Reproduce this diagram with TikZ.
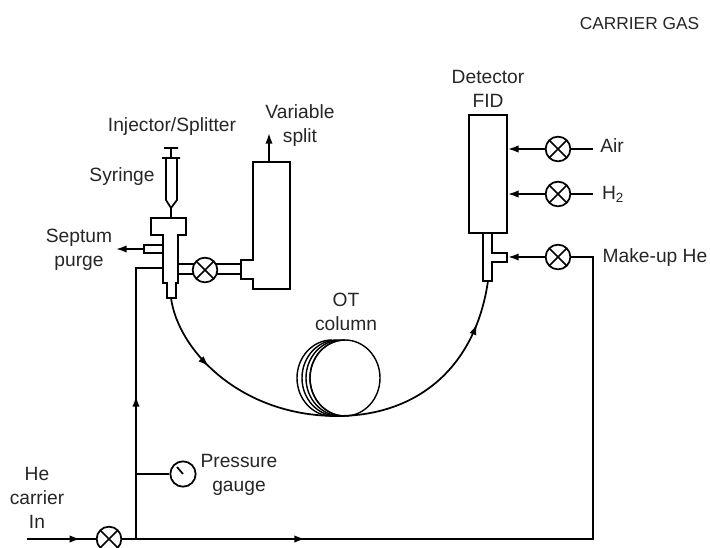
\documentclass[tikz,border=0pt]{standalone}
\usepackage{fontspec}
\setmainfont{Liberation Sans}
\usetikzlibrary{arrows.meta,decorations.markings}
\begin{document}
\begin{tikzpicture}[
x=0.75pt,y=-0.75pt,
pipe/.style={draw,line width=1.3pt},
coil/.style={draw,line width=1.05pt},
tip/.style={-{Latex[length=8pt,width=5.5pt]}},
midtip/.style={postaction={decorate},decoration={markings,mark=at position #1 with {\arrow{Latex[length=8pt,width=5.5pt]}}}},
valve/.style={circle,draw,line width=1.3pt,inner sep=0pt,minimum size=18.5pt,fill=white,path picture={
\draw[line width=1.3pt] (path picture bounding box.north west)--(path picture bounding box.south east)
(path picture bounding box.north east)--(path picture bounding box.south west);}},
gaugedial/.style={circle,draw,line width=1.3pt,inner sep=0pt,minimum size=19pt},
label/.style={align=center,font=\fontsize{14.4}{18}\selectfont,text=black!85,inner sep=0pt}
]
\clip (0,0) rectangle (710,547);
\fill[white] (0,0) rectangle (710,547);
\node[label,font=\fontsize{13}{18}\selectfont] (carrier) at (639.5,24) {CARRIER GAS};
\node[label] (injector) at (172,127) {Injector/Splitter};
\node[label] (syringe) at (122,177) {Syringe};
\node[label] (septum) at (79,250) {Septum\\purge};
\node[label] (split) at (300,126) {Variable\\split};
\node[label] (detector) at (488,89) {Detector\\FID};
\node[label] (air) at (612,146) {Air};
\node[label] (h2) at (613,194) {H\textsubscript{2}};
\node[label] (makeup) at (655,258) {Make-up He};
\node[label] (ot) at (346,312) {OT\\column};
\node[label] (pressure) at (239,475) {Pressure\\gauge};
\node[label] (he) at (37,498) {He\\carrier\\In};

\draw[pipe] (178,264) -- (241,264) (178,274) -- (241,274);
\node[valve] (vsplit) at (205,270) {};
\node[valve] (vair) at (558,149) {};
\node[valve] (vh2) at (558,194) {};
\node[valve] (vmake) at (558,257) {};
\node[gaugedial] (gauge) at (183,474) {};
\node[draw,line width=1.3pt,minimum width=28.5pt,minimum height=88.5pt,inner sep=0pt] (det) at (488,174) {};

\coordinate (airend) at (593,149);
\coordinate (h2end) at (593,194);
\coordinate (corner) at (593,257);
\coordinate (corner2) at (593,539);
\coordinate (instart) at (27,539);
\coordinate (tee) at (136,539);
\coordinate (teeg) at (136,474);
\coordinate (inl) at (136,268);
\coordinate (inr) at (163,268);
\coordinate (colstart) at (171,298);
\coordinate (colend) at (488,281);
\coordinate (colmid) at (337,416);
\coordinate (purge) at (144,249);
\coordinate (purgeend) at (116,249);
\coordinate (splitout) at (269,162);
\coordinate (splitend) at (269,133);

\draw[pipe] (164,148) -- (178,148) (171,148) -- (171,158) (162,158) -- (180,158)
(166,158) -- (166,200) -- (171,208) -- (177,200) -- (177,158)
(171,208) -- (171,218);
\draw[pipe] (163,235) -- (151,235) -- (151,218) -- (186,218) -- (186,235) -- (178,235) -- (178,283) -- (176,283) -- (176,298) -- (167,298) -- (167,283) -- (163,283) -- cycle;
\draw[pipe] (163,245) -- (144,245) -- (144,253) -- (163,253);
\draw[pipe] (241,279) -- (241,260) -- (253,260) -- (253,162) -- (290,162) -- (290,289) -- (253,289) -- (253,279) -- cycle;
\draw[pipe] (483,233) -- (483,281) -- (492,281) -- (492,262) -- (507,262) -- (507,253) -- (492,253) -- (492,233);

\draw[pipe,tip] (purge) -- (purgeend);
\draw[pipe,tip] (splitout) -- (splitend);
\draw[pipe,tip] (vair) -- (det.east |- vair);
\draw[pipe,tip] (vh2) -- (det.east |- vh2);
\draw[pipe,tip] (vmake) -- (508,257);
\draw[pipe] (vair) -- (airend);
\draw[pipe] (vh2) -- (h2end);
\draw[pipe] (vmake) -- (corner) -- (corner2) -- (tee);
\draw[pipe,midtip=0.49] (instart) -- (tee);
\draw[pipe,midtip=0.37] (tee) -- (corner2);
\draw[pipe,midtip=0.48] (tee) -- (inl) -- (inr);
\draw[pipe] (teeg) -- (gauge);
\draw[pipe] (gauge.center) -- (177,467);
\node[valve] (vin) at (109,539) {};

\draw[coil] (345,378) ellipse (35 and 38);
\foreach \cx in {310,306,302,297}{
\draw[coil] (\cx+35,416) arc[start angle=90,end angle=270,x radius=35,y radius=38];
}
\draw[pipe,midtip=0.36] (colstart) .. controls (178,350) and (240,416) .. (colmid);
\draw[pipe,midtip=0.8] (colmid) .. controls (415,416) and (475,370) .. (colend);
\end{tikzpicture}
\end{document}
